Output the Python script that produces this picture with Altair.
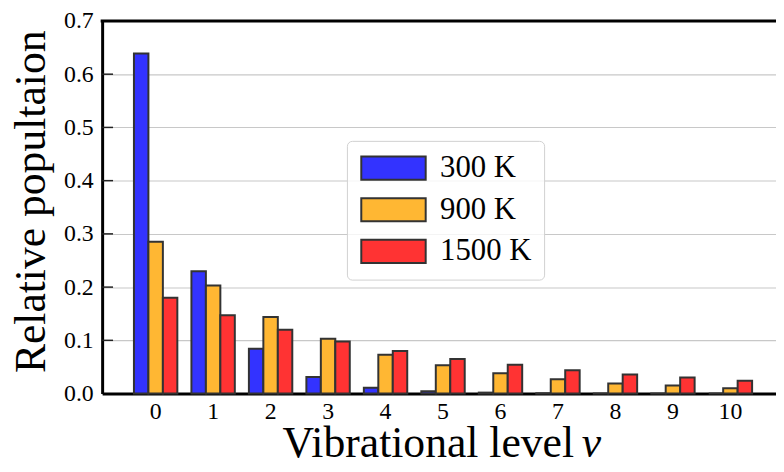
import altair as alt
import pandas as pd

levels = list(range(11))
series_names = ["300 K", "900 K", "1500 K"]
pop_300 = [0.639, 0.230, 0.084, 0.031, 0.011, 0.0042, 0.0018, 0.0006, 0.0002, 0.0001, 0.0]
pop_900 = [0.285, 0.203, 0.144, 0.103, 0.073, 0.053, 0.038, 0.027, 0.019, 0.015, 0.010]
pop_1500 = [0.180, 0.147, 0.120, 0.098, 0.080, 0.065, 0.054, 0.044, 0.036, 0.030, 0.024]
colors = ["#3333ff", "#ffb733", "#ff3333"]
y_ticks = [0.0, 0.1, 0.2, 0.3, 0.4, 0.5, 0.6, 0.7]

rows = []
for name, vals in zip(series_names, [pop_300, pop_900, pop_1500]):
    for lv, v in zip(levels, vals):
        rows.append({"level": lv, "series": name, "value": v})
df = pd.DataFrame(rows)

FONT = "Liberation Serif"
W, H = 680, 376

yscale = alt.Scale(domain=[0, 0.7], nice=False, zero=True)
yaxis = alt.Axis(title="Relative popultaion", values=y_ticks, format=".1f",
                 labelFont=FONT, labelFontSize=24, labelColor="black",
                 ticks=False, labelPadding=9, domainColor="black", domainWidth=3,
                 grid=True, gridColor="#c8c8c8", gridWidth=1.2,
                 titleFont=FONT, titleFontSize=44, titleFontWeight="normal",
                 titleColor="black", titleX=-49, titleY=182)

bars = alt.Chart(df).mark_bar(stroke="#333333", strokeWidth=2).encode(
    x=alt.X("level:O",
            scale=alt.Scale(paddingInner=0.245, paddingOuter=0.4845, align=0.571),
            axis=alt.Axis(title=None, labelAngle=0, labelFont=FONT, labelFontSize=24,
                          labelColor="black", ticks=False, labelPadding=6,
                          domainColor="black", domainWidth=3, grid=False)),
    xOffset=alt.XOffset("series:N", sort=series_names, scale=alt.Scale(paddingInner=0, paddingOuter=0)),
    y=alt.Y("value:Q", scale=yscale, axis=yaxis),
    color=alt.Color("series:N", sort=series_names,
                    scale=alt.Scale(domain=series_names, range=colors),
                    legend=alt.Legend(title=None, orient="none", legendX=247, legendY=121,
                                      labelFont=FONT, labelFontSize=31, labelColor="black",
                                      symbolType="M-1,-0.9L4,-0.9L4,0.9L-1,0.9Z",
                                      symbolSize=676, symbolStrokeColor="#333333",
                                      symbolStrokeWidth=2, symbolOpacity=1,
                                      rowPadding=9, labelOffset=51,
                                      padding=12, fillColor="rgba(255,255,255,0.8)",
                                      strokeColor="#d0d0d0", cornerRadius=5)),
)

tick_df = pd.DataFrame({"value": y_ticks[1:-1]})
ticks = alt.Chart(tick_df).mark_rule(color="#222222", strokeWidth=1.5).encode(
    y=alt.Y("value:Q", scale=yscale, axis=yaxis),
    x=alt.value(0), x2=alt.value(11),
)

top_spine = alt.Chart(pd.DataFrame({"a": [0]})).mark_rule(color="black", strokeWidth=3).encode(
    x=alt.value(-1.5), x2=alt.value(W), y=alt.value(0)
)

xt1 = alt.Chart(pd.DataFrame({"t": ["Vibrational level"]})).mark_text(
    font=FONT, fontSize=44, align="left", baseline="alphabetic", color="black"
).encode(text="t:N", x=alt.value(182), y=alt.value(H + 64))

xt2 = alt.Chart(pd.DataFrame({"t": ["v"]})).mark_text(
    font=FONT, fontSize=44, fontStyle="italic", align="left", baseline="alphabetic", color="black"
).encode(text="t:N", x=alt.value(484), y=alt.value(H + 64))

chart = alt.layer(bars, ticks, top_spine, xt1, xt2).properties(
    width=W, height=H,
    autosize=alt.AutoSizeParams(type="none"),
    padding={"left": 95, "top": 11, "right": 0, "bottom": 69},
).configure_view(stroke=None).configure(background="white")

chart.save("out.html", embed_options={"renderer": "svg", "actions": False})
